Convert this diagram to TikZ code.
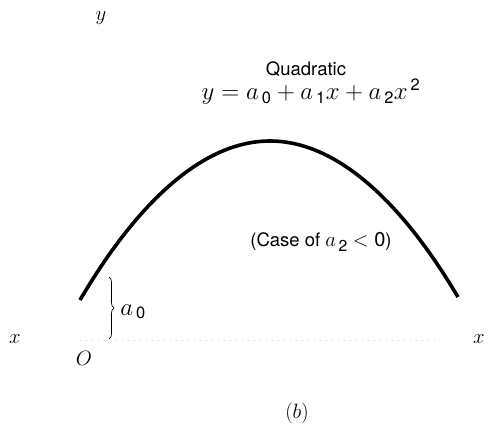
\documentclass[tikz,border=0pt]{standalone}
\usepackage{amsmath}
\usepackage{fontspec}
\setsansfont{TeX Gyre Heros}
\usetikzlibrary{decorations.pathreplacing}
\newcommand{\sub}[1]{_{\,\textsf{#1}}}
\begin{document}
\begin{tikzpicture}[x=1pt,y=-1pt,
  lbl/.style={inner sep=0pt, anchor=base, font=\fontsize{21}{24}\selectfont},
  eqs/.style={inner sep=0pt, anchor=base, font=\fontsize{23.5}{27}\selectfont},
  txt/.style={inner sep=0pt, anchor=base, font=\fontsize{18.5}{22}\selectfont\sffamily},
  curve/.style={line width=3.6pt},
  axis/.style={gray!35, line width=0.5pt, dash pattern=on 1pt off 5pt}]
\useasboundingbox (0,0) rectangle (492,430);
% axis
\coordinate (ax0) at (80,340);
\coordinate (ax1) at (440,340);
\draw[axis] (ax0) -- (ax1);
% curve
\coordinate (cL) at (80,300);
\coordinate (cT) at (270,141);
\coordinate (cR) at (458,297);
\draw[curve] (cL) parabola bend (cT) (cR);
% brace
\coordinate (b0) at (109,277);
\coordinate (b1) at (109,339);
\draw[decorate, decoration={brace, amplitude=5pt}, line width=0.7pt] (b0) -- (b1);
% labels
\node[lbl] (ylab) at (101,21) {$y$};
\node[lbl] (xl) at (15,343) {$x$};
\node[lbl] (xr) at (479,343) {$x$};
\node[lbl] (O) at (84,365) {$O$};
\node[eqs] (a0) at (133,315) {$a\sub{0}$};
\node[txt] (quad) at (306,76) {Quadratic};
\node[eqs] (eq) at (311,100) {$y = a\sub{0} + a\sub{1}x + a\sub{2}x^{\,\textsf{2}}$};
\node[txt] (case) at (321,247) {(Case of {\fontsize{22.5}{26}\selectfont$a\sub{2}$} {\fontsize{20}{24}\selectfont$<$ 0})};
\node[lbl] (b) at (297,418) {$(b)$};
\end{tikzpicture}
\end{document}
